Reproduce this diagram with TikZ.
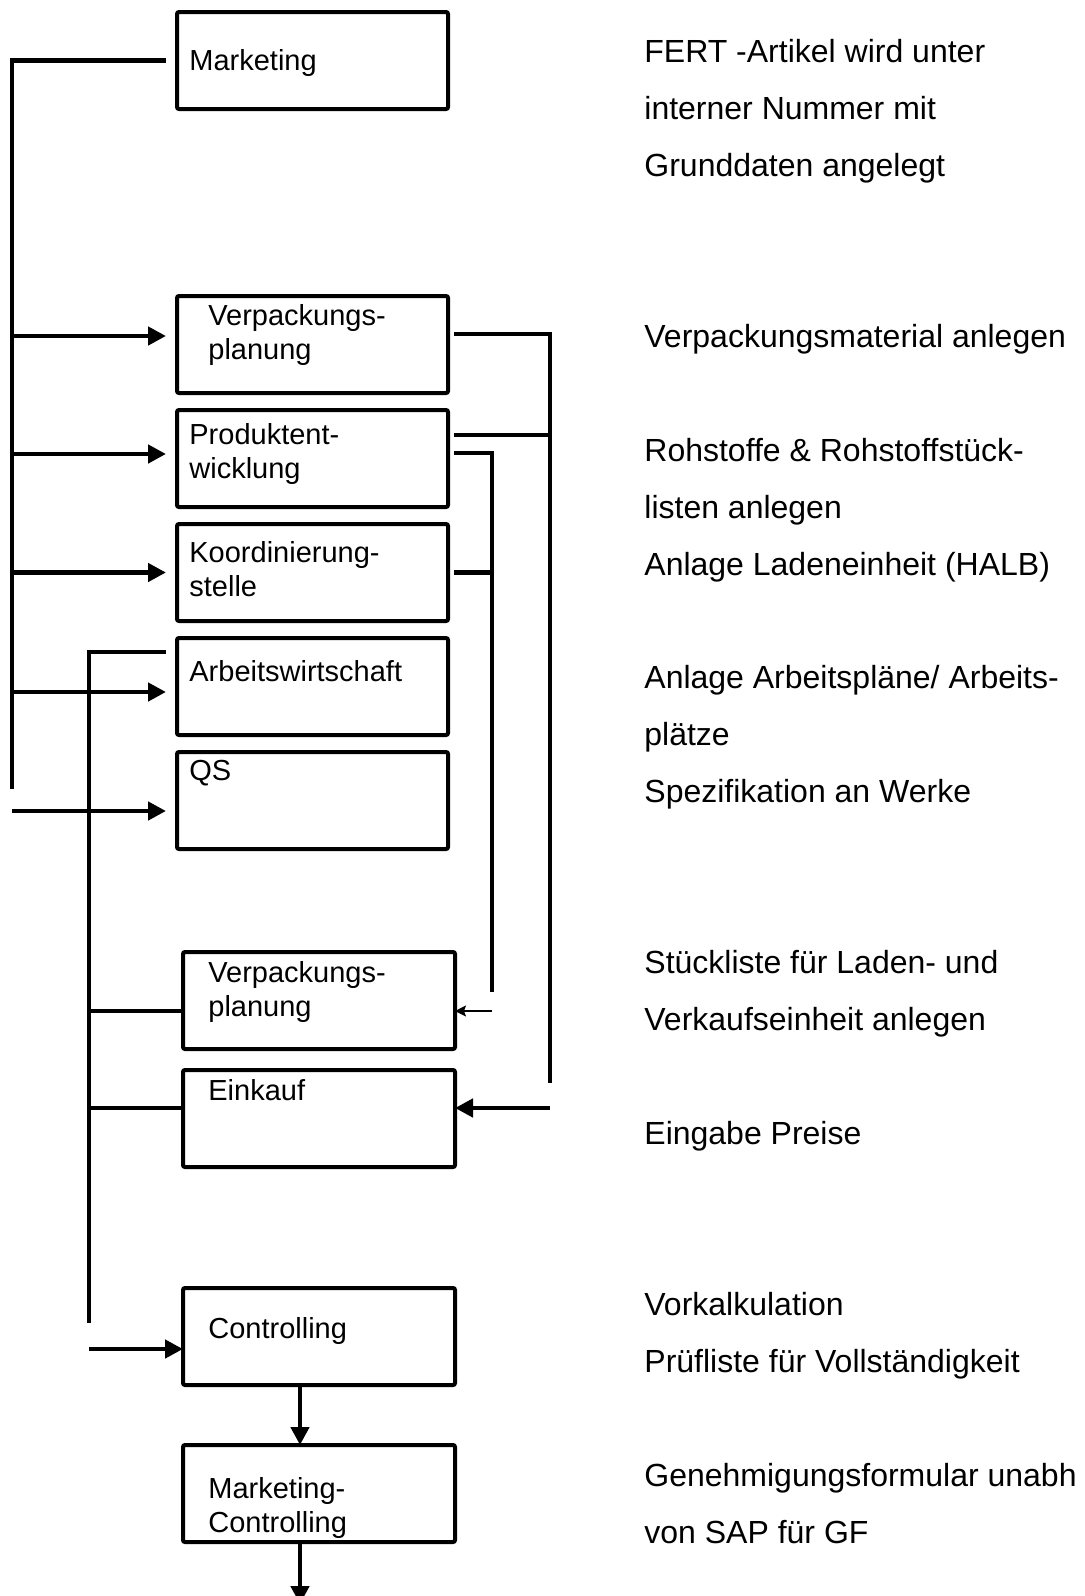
\documentclass[tikz,border=0pt]{standalone}
\usepackage{fontspec}
\setmainfont{Liberation Sans}
\usetikzlibrary{arrows.meta,positioning,calc}

\tikzset{
  box/.style={draw, line width=2pt, rounded corners=1pt, outer sep=0pt, inner sep=0pt,
    minimum width=135.5pt, minimum height=48.5pt},
  lowbox/.style={box, minimum width=136pt},
  boxtxt/.style={anchor=base west, align=left, inner sep=0pt,
    font=\fontsize{14.5}{17.25}\selectfont},
  note/.style={anchor=base west, align=left, inner sep=0pt,
    font=\fontsize{16}{28.5}\selectfont},
  conn/.style={line width=2.4pt},
  arr/.style={conn, -{Triangle[length=9pt,width=9pt]}},
  tarr/.style={line width=0.75pt, -{Stealth[length=5.5pt,width=5.5pt,inset=1pt]}}
}

\begin{document}
\begin{tikzpicture}[x=0.5pt,y=-0.5pt,node distance=8.5pt]
  \useasboundingbox (0,0) rectangle (1085,1596);

  % boxes
  \node[box, anchor=north west] (mkt) at (177,12) {};
  \node[box, anchor=north west] (vp1) at (177,296) {};
  \node[box] (pe) [below=of vp1] {};
  \node[box] (ks) [below=of pe] {};
  \node[box] (aw) [below=of ks] {};
  \node[box] (qs) [below=of aw] {};
  \node[lowbox, anchor=north west] (vp2) at (183,952) {};
  \node[lowbox, anchor=north west] (ek) at (183,1070) {};
  \node[lowbox, anchor=north west] (ct) at (183,1288) {};
  \node[lowbox, anchor=north west] (mc) at (183,1445) {};

  % box texts (base = last line)
  \node[boxtxt] (mkt-t) at ($(mkt.north west)+(12,58)$) {Marketing};
  \node[boxtxt] (vp1-t) at ($(vp1.north west)+(31,63.5)$) {Verpackungs-\\planung};
  \node[boxtxt] (pe-t) at ($(pe.north west)+(12,68.5)$) {Produktent-\\wicklung};
  \node[boxtxt] (ks-t) at ($(ks.north west)+(12,72.5)$) {Koordinierung-\\stelle};
  \node[boxtxt] (aw-t) at ($(aw.north west)+(12,43)$) {Arbeitswirtschaft};
  \node[boxtxt] (qs-t) at ($(qs.north west)+(12,28)$) {QS};
  \node[boxtxt] (vp2-t) at ($(vp2.north west)+(25,64.5)$) {Verpackungs-\\planung};
  \node[boxtxt] (ek-t) at ($(ek.north west)+(25,30)$) {Einkauf};
  \node[boxtxt] (ct-t) at ($(ct.north west)+(25,50)$) {Controlling};
  \node[boxtxt] (mc-t) at ($(mc.north west)+(25,87.5)$) {Marketing-\\Controlling};

  % notes on the right
  \node[note] (n1) at (644,176) {FERT -Artikel wird unter\\interner Nummer mit\\Grunddaten angelegt};
  \node[note] (n2) at (644,347) {Verpackungsmaterial anlegen};
  \node[note] (n3) at (644,575) {Rohstoffe \& Rohstoffstück-\\listen anlegen\\Anlage Ladeneinheit (HALB)};
  \node[note] (n4) at (644,802) {Anlage Arbeitspläne/ Arbeits-\\plätze\\Spezifikation an Werke};
  \node[note] (n5) at (644,1030) {Stückliste für Laden- und\\Verkaufseinheit anlegen};
  \node[note] (n6) at (644,1144) {Eingabe Preise};
  \node[note] (n7) at (644,1372) {Vorkalkulation\\Prüfliste für Vollständigkeit};
  \node[note] (n8) at (644,1543) {Genehmigungsformular unabh\\von SAP für GF};

  % bus lines
  \coordinate (busA) at (12,789);
  \coordinate (busB) at (89,1323);
  \coordinate (busC) at (550,1083);
  \coordinate (busD) at (492,992);
  \coordinate (out) at (300,1604);

  % left side
  \draw[conn] ([xshift=-5.5pt]mkt.west) -| (busA);
  \foreach \n/\s in {vp1/4.25pt, pe/2.25pt, ks/0pt, aw/-2.75pt, qs/-5.25pt}{
    \coordinate (\n-in) at ([yshift=\s]\n.west);
    \draw[arr, shorten >=5.5pt] (busA |- \n-in) -- (\n-in);
  }
  \draw[conn] ([shift={(-5.5pt,-7pt)}]aw.north west) -| (busB);
  \coordinate (vp2-in) at ([yshift=-5.25pt]vp2.west);
  \coordinate (ek-in) at ([yshift=5.25pt]ek.west);
  \coordinate (ct-in) at ([yshift=-6.25pt]ct.west);
  \draw[conn] (busB |- vp2-in) -- (vp2-in);
  \draw[conn] (busB |- ek-in) -- (ek-in);
  \draw[arr] (busB |- ct-in) -- (ct-in);
  \draw[arr] ([xshift=-9.5pt]ct.south) -- ([xshift=-9.5pt]mc.north);
  \draw[arr] ([xshift=-9.5pt]mc.south) -- (out);

  % right side
  \draw[conn] ([shift={(3pt,5.25pt)}]vp1.east) -| (busC);
  \coordinate (pe-o1) at ([shift={(3pt,11.75pt)}]pe.east);
  \draw[conn] (pe-o1) -- (pe-o1 -| busC);
  \draw[conn] ([shift={(3pt,2.75pt)}]pe.east) -| (busD);
  \coordinate (ks-o) at ([xshift=3pt]ks.east);
  \draw[conn] (ks-o) -- (ks-o -| busD);
  \coordinate (vp2-o) at ([yshift=-5.25pt]vp2.east);
  \coordinate (ek-o) at ([yshift=5.25pt]ek.east);
  \draw[tarr] (busD |- vp2-o) -- (vp2-o);
  \draw[arr] (busC |- ek-o) -- (ek-o);
\end{tikzpicture}
\end{document}
